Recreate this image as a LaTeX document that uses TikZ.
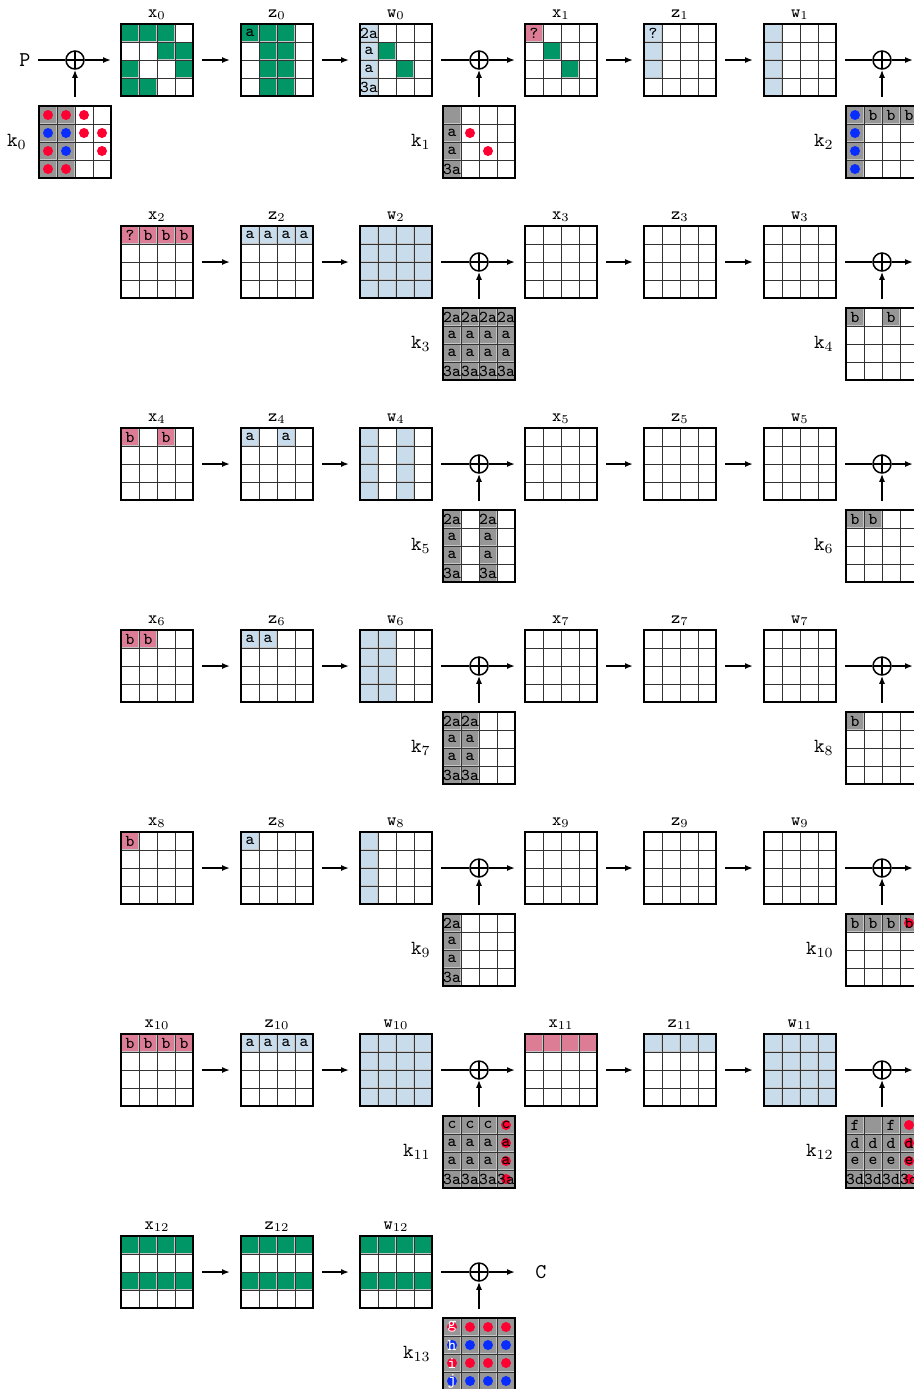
\documentclass[tikz,border=0pt]{standalone}
\usepackage{fontspec}
\usetikzlibrary{arrows.meta}
\definecolor{kgreen}{RGB}{0,150,102}
\definecolor{kpink}{RGB}{221,125,149}
\definecolor{kblue}{RGB}{200,220,235}
\definecolor{kgray}{RGB}{150,150,150}
\definecolor{kred}{RGB}{255,0,51}
\definecolor{kdblue}{RGB}{10,45,255}
\newcommand\setg[2]{\def\gX{#1}\def\gY{#2}}
\newcommand\fc[3]{\path[cellfill,fill=#3] (\gX+18*#2+0.8,\gY+18*#1+0.8) rectangle (\gX+18*#2+17.2,\gY+18*#1+17.2);}
\newcommand\dt[3]{\fill[#3] (\gX+18*#2+9,\gY+18*#1+9) circle (2.5pt);}
\newcommand\tx[3]{\node[celltext] at (\gX+18*#2+9,\gY+18*#1+9) {#3};}
\newcommand\txw[3]{\node[celltext,text=white] at (\gX+18*#2+9,\gY+18*#1+9) {#3};}
\newcommand\colfill[2]{\foreach \myr in {0,...,3}{\fc{\myr}{#1}{#2}}}
\newcommand\rowfill[2]{\foreach \myc in {0,...,3}{\fc{#1}{\myc}{#2}}}
\newcommand\allfill[1]{\foreach \myr in {0,...,3}{\foreach \myc in {0,...,3}{\fc{\myr}{\myc}{#1}}}}
\newcommand\keycol[1]{\tx{0}{#1}{2a}\tx{1}{#1}{a}\tx{2}{#1}{a}\tx{3}{#1}{3a}}
\newcommand\glines{\draw[gline] (\gX+18,\gY)--(\gX+18,\gY+72) (\gX+36,\gY)--(\gX+36,\gY+72) (\gX+54,\gY)--(\gX+54,\gY+72) (\gX,\gY+18)--(\gX+72,\gY+18) (\gX,\gY+36)--(\gX+72,\gY+36) (\gX,\gY+54)--(\gX+72,\gY+54);}
\newcommand\gfin[3]{\glines\node[gridbox] (#1) at (\gX,\gY) {};\node[lab] at (\gX+36,\gY-7) {\texttt{#2}$_{#3}$};}
\newcommand\kfin[2]{\glines\node[gridbox] (#1) at (\gX,\gY) {};\node[klab] at (\gX-12,\gY+36) {\texttt{k}$_{#2}$};}
\begin{document}
\begin{tikzpicture}[x=0.5pt,y=-0.5pt,
  cellfill/.style={draw=gray!45,line width=0.5pt},
  celltext/.style={inner sep=0pt,font=\ttfamily\fontsize{8.3}{8.3}\selectfont},
  gline/.style={draw=black!80,line width=0.5pt},
  gridbox/.style={draw=black,line width=1pt,minimum size=36pt,inner sep=0pt,outer sep=0pt,anchor=north west},
  lab/.style={anchor=base,inner sep=0pt,font=\fontsize{8.8}{8.8}\selectfont},
  klab/.style={anchor=east,inner sep=0pt,font=\fontsize{10}{10}\selectfont},
  bigt/.style={inner sep=0pt,font=\ttfamily\fontsize{10.5}{10.5}\selectfont},
  xorop/.style={circle,draw,line width=0.75pt,minimum size=9pt,inner sep=0pt,
    path picture={\draw[line width=0.75pt] (path picture bounding box.north)--(path picture bounding box.south) (path picture bounding box.west)--(path picture bounding box.east);}},
  plainline/.style={line width=0.75pt,shorten <=4.5pt},
  flow/.style={line width=0.75pt,-{Latex[length=4pt,width=3pt]},shorten <=4.5pt,shorten >=5.5pt},
  flowout/.style={line width=0.75pt,-{Latex[length=4pt,width=3pt]},shorten >=5pt},
  flowup/.style={line width=0.75pt,-{Latex[length=4pt,width=3pt]},shorten <=4.5pt}]
\useasboundingbox (0,0) rectangle (914,1389);
\clip (0,0) rectangle (914,1389);
% ===== row 0 =====
\setg{121}{24}
\fc{0}{0}{kgreen}\fc{0}{1}{kgreen}\fc{0}{2}{kgreen}\fc{1}{2}{kgreen}\fc{1}{3}{kgreen}\fc{2}{0}{kgreen}\fc{2}{3}{kgreen}\fc{3}{0}{kgreen}\fc{3}{1}{kgreen}
\gfin{gx0}{x}{0}
\setg{241}{24}
\fc{0}{0}{kgreen}\tx{0}{0}{a}\colfill{1}{kgreen}\colfill{2}{kgreen}
\gfin{gz0}{z}{0}
\setg{360}{24}
\colfill{0}{kblue}\keycol{0}\fc{1}{1}{kgreen}\fc{2}{2}{kgreen}
\gfin{gw0}{w}{0}
\setg{39}{106}
\colfill{0}{kgray}\colfill{1}{kgray}
\dt{0}{0}{kred}\dt{0}{1}{kred}\dt{0}{2}{kred}
\dt{1}{0}{kdblue}\dt{1}{1}{kdblue}\dt{1}{2}{kred}\dt{1}{3}{kred}
\dt{2}{0}{kred}\dt{2}{1}{kdblue}\dt{2}{3}{kred}
\dt{3}{0}{kred}\dt{3}{1}{kred}
\kfin{gk0}{0}
\setg{525}{24}
\fc{0}{0}{kpink}\tx{0}{0}{?}\fc{1}{1}{kgreen}\fc{2}{2}{kgreen}
\gfin{gx1}{x}{1}
\setg{644}{24}
\fc{0}{0}{kblue}\tx{0}{0}{?}\fc{1}{0}{kblue}\fc{2}{0}{kblue}
\gfin{gz1}{z}{1}
\setg{764}{24}
\colfill{0}{kblue}
\gfin{gw1}{w}{1}
\setg{443}{106}
\colfill{0}{kgray}\tx{1}{0}{a}\tx{2}{0}{a}\tx{3}{0}{3a}\dt{1}{1}{kred}\dt{2}{2}{kred}
\kfin{gk1}{1}
\setg{846}{106}
\colfill{0}{kgray}\foreach \q in {0,...,3}{\dt{\q}{0}{kdblue}}
\fc{0}{1}{kgray}\fc{0}{2}{kgray}\fc{0}{3}{kgray}\tx{0}{1}{b}\tx{0}{2}{b}\tx{0}{3}{b}
\kfin{gk2}{2}
% ===== row 1 =====
\setg{121}{226}
\rowfill{0}{kpink}\tx{0}{0}{?}\tx{0}{1}{b}\tx{0}{2}{b}\tx{0}{3}{b}
\gfin{gx2}{x}{2}
\setg{241}{226}
\rowfill{0}{kblue}\foreach \q in {0,...,3}{\tx{0}{\q}{a}}
\gfin{gz2}{z}{2}
\setg{360}{226}
\allfill{kblue}
\gfin{gw2}{w}{2}
\setg{443}{308}
\allfill{kgray}\foreach \q in {0,...,3}{\keycol{\q}}
\kfin{gk3}{3}
\setg{525}{226}\gfin{gx3}{x}{3}
\setg{644}{226}\gfin{gz3}{z}{3}
\setg{764}{226}\gfin{gw3}{w}{3}
\setg{846}{308}
\fc{0}{0}{kgray}\tx{0}{0}{b}\fc{0}{2}{kgray}\tx{0}{2}{b}
\kfin{gk4}{4}
% ===== row 2 =====
\setg{121}{428}
\fc{0}{0}{kpink}\tx{0}{0}{b}\fc{0}{2}{kpink}\tx{0}{2}{b}
\gfin{gx4}{x}{4}
\setg{241}{428}
\fc{0}{0}{kblue}\tx{0}{0}{a}\fc{0}{2}{kblue}\tx{0}{2}{a}
\gfin{gz4}{z}{4}
\setg{360}{428}
\colfill{0}{kblue}\colfill{2}{kblue}
\gfin{gw4}{w}{4}
\setg{443}{510}
\colfill{0}{kgray}\colfill{2}{kgray}\keycol{0}\keycol{2}
\kfin{gk5}{5}
\setg{525}{428}\gfin{gx5}{x}{5}
\setg{644}{428}\gfin{gz5}{z}{5}
\setg{764}{428}\gfin{gw5}{w}{5}
\setg{846}{510}
\fc{0}{0}{kgray}\tx{0}{0}{b}\fc{0}{1}{kgray}\tx{0}{1}{b}
\kfin{gk6}{6}
% ===== row 3 =====
\setg{121}{630}
\fc{0}{0}{kpink}\tx{0}{0}{b}\fc{0}{1}{kpink}\tx{0}{1}{b}
\gfin{gx6}{x}{6}
\setg{241}{630}
\fc{0}{0}{kblue}\tx{0}{0}{a}\fc{0}{1}{kblue}\tx{0}{1}{a}
\gfin{gz6}{z}{6}
\setg{360}{630}
\colfill{0}{kblue}\colfill{1}{kblue}
\gfin{gw6}{w}{6}
\setg{443}{712}
\colfill{0}{kgray}\colfill{1}{kgray}\keycol{0}\keycol{1}
\kfin{gk7}{7}
\setg{525}{630}\gfin{gx7}{x}{7}
\setg{644}{630}\gfin{gz7}{z}{7}
\setg{764}{630}\gfin{gw7}{w}{7}
\setg{846}{712}
\fc{0}{0}{kgray}\tx{0}{0}{b}
\kfin{gk8}{8}
% ===== row 4 =====
\setg{121}{832}
\fc{0}{0}{kpink}\tx{0}{0}{b}
\gfin{gx8}{x}{8}
\setg{241}{832}
\fc{0}{0}{kblue}\tx{0}{0}{a}
\gfin{gz8}{z}{8}
\setg{360}{832}
\colfill{0}{kblue}
\gfin{gw8}{w}{8}
\setg{443}{914}
\colfill{0}{kgray}\keycol{0}
\kfin{gk9}{9}
\setg{525}{832}\gfin{gx9}{x}{9}
\setg{644}{832}\gfin{gz9}{z}{9}
\setg{764}{832}\gfin{gw9}{w}{9}
\setg{846}{914}
\rowfill{0}{kgray}\dt{0}{3}{kred}\foreach \q in {0,...,3}{\tx{0}{\q}{b}}
\kfin{gk10}{10}
% ===== row 5 =====
\setg{121}{1034}
\rowfill{0}{kpink}\foreach \q in {0,...,3}{\tx{0}{\q}{b}}
\gfin{gx10}{x}{10}
\setg{241}{1034}
\rowfill{0}{kblue}\foreach \q in {0,...,3}{\tx{0}{\q}{a}}
\gfin{gz10}{z}{10}
\setg{360}{1034}
\allfill{kblue}
\gfin{gw10}{w}{10}
\setg{443}{1116}
\allfill{kgray}\foreach \q in {0,...,3}{\dt{\q}{3}{kred}}
\foreach \q in {0,...,3}{\tx{0}{\q}{c}\tx{1}{\q}{a}\tx{2}{\q}{a}\tx{3}{\q}{3a}}
\kfin{gk11}{11}
\setg{525}{1034}
\rowfill{0}{kpink}
\gfin{gx11}{x}{11}
\setg{644}{1034}
\rowfill{0}{kblue}
\gfin{gz11}{z}{11}
\setg{764}{1034}
\allfill{kblue}
\gfin{gw11}{w}{11}
\setg{846}{1116}
\allfill{kgray}\foreach \q in {0,...,3}{\dt{\q}{3}{kred}}
\tx{0}{0}{f}\tx{0}{2}{f}
\foreach \q in {0,...,3}{\tx{1}{\q}{d}\tx{2}{\q}{e}\tx{3}{\q}{3d}}
\kfin{gk12}{12}
% ===== row 6 =====
\setg{121}{1236}
\rowfill{0}{kgreen}\rowfill{2}{kgreen}
\gfin{gx12}{x}{12}
\setg{241}{1236}
\rowfill{0}{kgreen}\rowfill{2}{kgreen}
\gfin{gz12}{z}{12}
\setg{360}{1236}
\rowfill{0}{kgreen}\rowfill{2}{kgreen}
\gfin{gw12}{w}{12}
\setg{443}{1318}
\allfill{kgray}
\foreach \q in {0,...,3}{\dt{0}{\q}{kred}\dt{1}{\q}{kdblue}\dt{2}{\q}{kred}\dt{3}{\q}{kdblue}}
\txw{0}{0}{g}\txw{1}{0}{h}\txw{2}{0}{i}\txw{3}{0}{j}
\kfin{gk13}{13}
% ===== operators and connectors =====
\node[bigt] (P) at (25,60) {P};
\node[xorop] (xor0) at (75,60) {};
\draw[plainline,shorten <=3.5pt] (P)--(xor0);
\draw[flowout] (xor0)--(gx0);
\draw[flowup] (gk0)--(xor0);
\foreach \r in {0,...,5}{
  \pgfmathtruncatemacro\a{2*\r}
  \pgfmathtruncatemacro\b{2*\r+1}
  \pgfmathtruncatemacro\c{2*\r+2}
  \pgfmathsetmacro\yy{60+202*\r}
  \node[xorop] (xor\b) at (479,\yy) {};
  \node[xorop] (xor\c) at (882,\yy) {};
  \coordinate (out\r) at (923,\yy);
  \draw[flow] (gx\a)--(gz\a);
  \draw[flow] (gz\a)--(gw\a);
  \draw[plainline] (gw\a)--(xor\b);
  \draw[flowout] (xor\b)--(gx\b);
  \draw[flowup] (gk\b)--(xor\b);
  \draw[flow] (gx\b)--(gz\b);
  \draw[flow] (gz\b)--(gw\b);
  \draw[plainline] (gw\b)--(xor\c);
  \draw[flowout] (xor\c)--(out\r);
  \draw[flowup] (gk\c)--(xor\c);
}
\node[xorop] (xor13) at (479,1272) {};
\node[bigt,anchor=west] (C) at (535,1272) {\vphantom{P}C};
\draw[flow] (gx12)--(gz12);
\draw[flow] (gz12)--(gw12);
\draw[plainline] (gw12)--(xor13);
\draw[flowout,shorten >=10pt] (xor13)--(C.west);
\draw[flowup] (gk13)--(xor13);
\end{tikzpicture}
\end{document}
